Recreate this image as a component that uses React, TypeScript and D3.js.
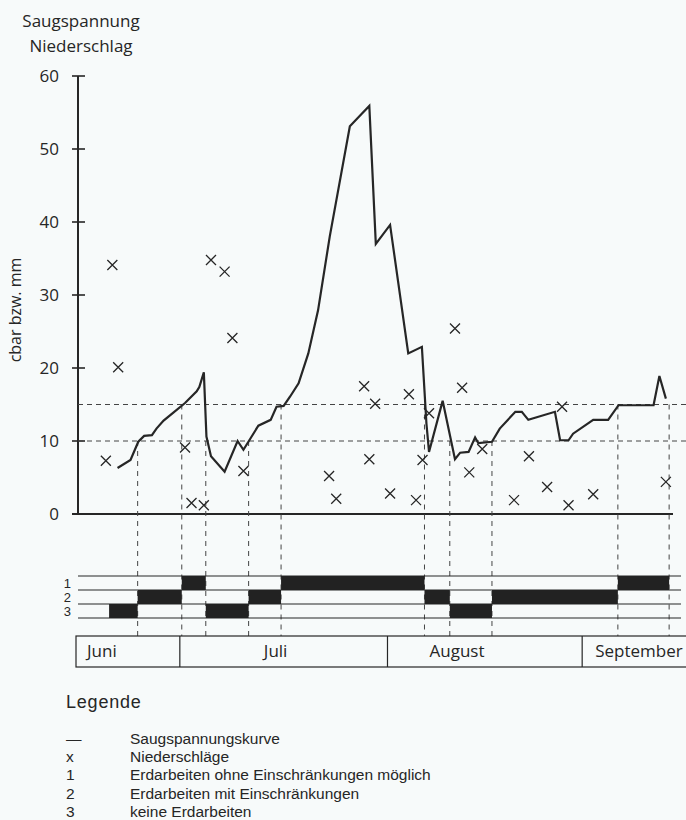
import React from 'react';
import * as d3 from 'd3';

// Tage ab 15. Juni
const suctionDays = [
  6.4, 8.4, 9.6, 10.5, 11.7, 12.4, 13.5, 15.0, 16.8, 18.6, 19.0, 19.7, 20.1, 20.8,
  22.9, 24.9, 25.8, 28.1, 30.0, 30.9, 32.0, 33.0, 34.3, 35.8, 37.3, 39.1, 42.2,
  44.0, 45.2, 46.2, 48.4, 51.2, 53.3, 54.0, 54.4, 56.5, 58.4, 59.2, 60.5, 61.5,
  62.0, 64.1, 65.3, 67.7, 68.7, 69.7, 73.8, 74.6, 75.9, 76.6, 79.7, 82.0, 83.6,
  89.0, 89.9, 90.9,
];
const suctionValues = [
  6.3, 7.4, 9.9, 10.7, 10.8, 11.7, 12.8, 13.9, 15.2, 16.8, 17.4, 19.4, 10.6, 7.9,
  5.8, 10.0, 8.8, 12.1, 12.9, 14.7, 14.8, 16.1, 17.9, 22.0, 27.9, 38.0, 53.1,
  54.8, 55.9, 37.0, 39.6, 22.0, 22.9, 12.4, 8.5, 15.5, 7.5, 8.4, 8.5, 10.5,
  9.7, 9.9, 11.7, 14.0, 14.0, 12.9, 14.0, 10.1, 10.1, 11.0, 12.9, 12.9, 14.9,
  14.9, 18.9, 15.8,
];

const rainDays = [
  4.6, 5.6, 6.5, 16.8, 17.8, 19.7, 20.8, 22.9, 24.1, 25.8, 39.0, 40.1, 44.4,
  45.2, 46.1, 48.4, 51.3, 52.4, 53.4, 54.4, 58.4, 59.5, 60.6, 62.6, 67.5, 69.8,
  72.6, 74.9, 75.9, 79.7, 90.9,
];
const rainValues = [
  7.3, 34.1, 20.1, 9.1, 1.5, 1.2, 34.8, 33.2, 24.1, 5.9, 5.2, 2.1, 17.5,
  7.5, 15.1, 2.8, 16.4, 1.9, 7.4, 13.8, 25.4, 17.3, 5.7, 8.9, 1.9, 7.9,
  3.7, 14.7, 1.2, 2.7, 4.4,
];

const thresholds = [10, 15];
const yTicks = [0, 10, 20, 30, 40, 50, 60];

// Einteilung 1 / 2 / 3
const phaseStart = [5.1, 9.5, 16.3, 20.0, 26.6, 31.6, 53.7, 57.6, 64.1, 83.5];
const phaseEnd = [9.5, 16.3, 20.0, 26.6, 31.6, 53.7, 57.6, 64.1, 83.5, 91.4];
const phaseClass = [3, 2, 1, 3, 2, 1, 2, 3, 2, 1];

// senkrechte Hilfslinien: Tag und Schwelle
const markerDays = [9.5, 16.3, 20.0, 26.6, 31.6, 53.7, 57.6, 64.1, 83.5, 91.4];
const markerLevels = [10, 15, 10, 10, 15, 15, 10, 10, 15, 15];

const months = ['Juni', 'Juli', 'August', 'September'];
const monthStarts = [0, 16, 48, 78];
const monthLabelOffset = [11, 84, 42, 13];

const legendSymbols = ['—', 'x', '1', '2', '3'];
const legendTexts = [
  'Saugspannungskurve',
  'Niederschläge',
  'Erdarbeiten ohne Einschränkungen möglich',
  'Erdarbeiten mit Einschränkungen',
  'keine Erdarbeiten',
];

const W = 686;
const H = 820;
const ink = '#262626';
const chartFont = '"Open Sans", sans-serif';
const textFont = '"Liberation Sans", Arial, sans-serif';

const App: React.FC = () => {
  const x = d3.scaleLinear().domain([0, 94]).range([76, 686]);
  const y = d3.scaleLinear().domain([0, 60]).range([514, 76]);
  const axisX = 78;
  const rowLines = [576, 590, 604, 618];
  const boxTop = 636;
  const boxBottom = 667;

  const line = d3.line<number>()
    .x((_, i) => x(suctionDays[i]))
    .y((d) => y(d));

  return (
    <svg width={W} height={H} style={{ position: 'absolute', left: 0, top: 0 }}>
      <rect width={W} height={H} fill="#f7fafa" />

      <g fontFamily={chartFont} fill={ink}>
        <text x={81} y={27} fontSize={17} textAnchor="middle">Saugspannung</text>
        <text x={81} y={52} fontSize={17} textAnchor="middle">Niederschlag</text>
        <text transform="translate(21,310) rotate(-90)" fontSize={16} textAnchor="middle">cbar bzw. mm</text>
        {yTicks.map((t) => (
          <text key={t} x={59} y={y(t)} dy="0.36em" fontSize={17} textAnchor="end">{t}</text>
        ))}
      </g>

      {/* Achse */}
      <line x1={axisX} x2={axisX} y1={y(60)} y2={y(0)} stroke={ink} strokeWidth={2} />
      {yTicks.map((t) => (
        <line key={t} x1={72} x2={85} y1={y(t)} y2={y(t)} stroke={ink} strokeWidth={1.6} />
      ))}
      <line x1={72} x2={673} y1={y(0)} y2={y(0)} stroke={ink} strokeWidth={2} />

      {/* Schwellen */}
      {thresholds.map((t) => (
        <line key={t} x1={axisX} x2={W} y1={y(t)} y2={y(t)} stroke="#444" strokeWidth={1} strokeDasharray="5,4" />
      ))}

      {/* Hilfslinien */}
      {markerDays.map((d, i) => (
        <line key={i} x1={x(d)} x2={x(d)} y1={y(markerLevels[i])} y2={boxTop}
          stroke="#444" strokeWidth={1} strokeDasharray="5,5" />
      ))}

      {/* Saugspannung */}
      <path d={line(suctionValues) || ''} fill="none" stroke={ink} strokeWidth={2.2} strokeLinejoin="miter" />

      {/* Niederschlag */}
      {rainDays.map((d, i) => (
        <path key={i} transform={`translate(${x(d)},${y(rainValues[i])})`}
          d="M-5,-5L5,5M-5,5L5,-5" stroke={ink} strokeWidth={1.3} fill="none" />
      ))}

      {/* Einteilung */}
      {rowLines.map((ry, i) => (
        <line key={i} x1={axisX} x2={681} y1={ry} y2={ry} stroke={ink} strokeWidth={1.2} />
      ))}
      {phaseStart.map((s, i) => (
        <rect key={i} x={x(s)} width={x(phaseEnd[i]) - x(s)}
          y={rowLines[phaseClass[i] - 1]} height={rowLines[phaseClass[i]] - rowLines[phaseClass[i] - 1]}
          fill="#222" />
      ))}
      <g fontFamily={textFont} fontSize={13} fill={ink} textAnchor="end">
        {[1, 2, 3].map((k) => (
          <text key={k} x={71} y={(rowLines[k - 1] + rowLines[k]) / 2} dy="0.35em">{k}</text>
        ))}
      </g>

      {/* Monate */}
      <rect x={x(0)} y={boxTop} width={W + 20 - x(0)} height={boxBottom - boxTop}
        fill="none" stroke={ink} strokeWidth={1.2} />
      {monthStarts.slice(1).map((m) => (
        <line key={m} x1={x(m)} x2={x(m)} y1={boxTop} y2={boxBottom} stroke={ink} strokeWidth={1.2} />
      ))}
      <g fontFamily={chartFont} fontSize={17} fill={ink}>
        {months.map((m, i) => (
          <text key={m} x={x(monthStarts[i]) + monthLabelOffset[i]} y={657}>{m}</text>
        ))}
      </g>

      {/* Legende */}
      <g fontFamily={textFont} fill={ink}>
        <text x={66} y={708} fontSize={18} letterSpacing={0.8}>Legende</text>
        {legendTexts.map((t, i) => (
          <g key={i} fontSize={15.5}>
            <text x={66} y={744 + i * 18.2}>{legendSymbols[i]}</text>
            <text x={130} y={744 + i * 18.2}>{t}</text>
          </g>
        ))}
      </g>
    </svg>
  );
};

export default App;
